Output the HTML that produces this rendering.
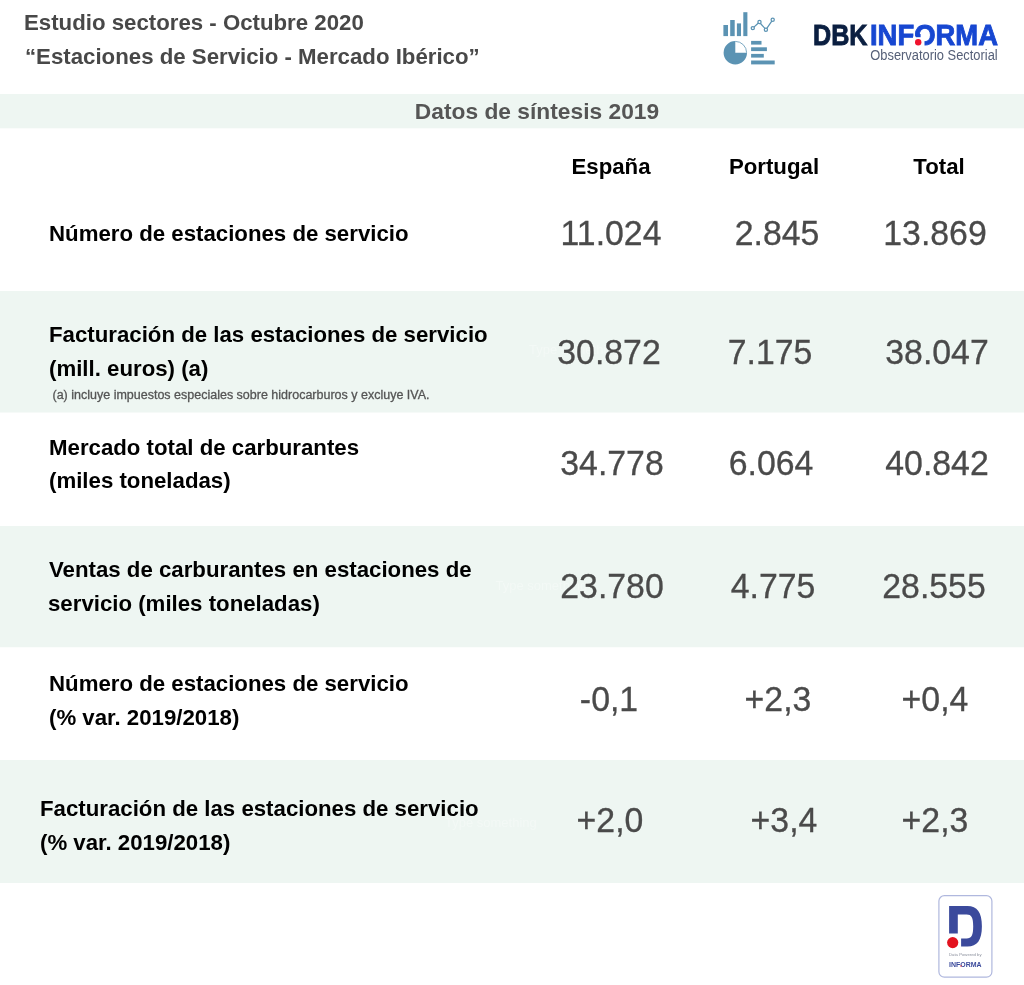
<!DOCTYPE html>
<html lang="es"><head><meta charset="utf-8"><title>Estaciones de Servicio - Mercado Ibérico</title>
<style>
html,body{margin:0;padding:0;background:#fff;overflow:hidden;}
body{width:1024px;height:985px;position:relative;overflow:hidden;font-family:"Liberation Sans",sans-serif;}
.t{position:absolute;line-height:1;white-space:nowrap;}
.band{position:absolute;left:0;width:1024px;background:#eef6f2;}
svg{position:absolute;overflow:visible}
</style></head><body>
<div class="band" style="top:94px;height:34px;box-shadow:0 1px 0 #fafcfb"></div>
<div class="band" style="top:291px;height:121px;box-shadow:0 1px 0 #f6faf8"></div>
<div class="band" style="top:526px;height:121px;box-shadow:0 1px 0 #fbfdfc"></div>
<div class="band" style="top:760px;height:123px"></div>
<div class="t " style="left:24.20px;transform-origin:0 0;top:12px;font-size:22px;font-weight:bold;color:#484848;transform:scaleX(1.0105);">Estudio sectores - Octubre 2020</div>
<div class="t " style="left:25.00px;transform-origin:0 0;top:46px;font-size:22px;font-weight:bold;color:#484848;transform:scaleX(1.0105);">“Estaciones de Servicio - Mercado Ibérico”</div>
<div class="t " style="left:236.75px;width:600px;text-align:center;transform-origin:50% 0;top:101px;font-size:22.5px;font-weight:bold;color:#555;transform:scaleX(1.012);">Datos de síntesis 2019</div>
<div class="t " style="left:311.25px;width:600px;text-align:center;transform-origin:50% 0;top:156px;font-size:22px;font-weight:bold;color:#000;transform:scaleX(1.0105);">España</div>
<div class="t " style="left:473.75px;width:600px;text-align:center;transform-origin:50% 0;top:156px;font-size:22px;font-weight:bold;color:#000;transform:scaleX(1.0105);">Portugal</div>
<div class="t " style="left:638.50px;width:600px;text-align:center;transform-origin:50% 0;top:156px;font-size:22px;font-weight:bold;color:#000;transform:scaleX(1.0105);">Total</div>
<div class="t" style="left:529px;top:343px;font-size:13px;color:rgba(255,255,255,0.32)">Type something</div>
<div class="t" style="left:495.5px;top:579px;font-size:13px;color:rgba(255,255,255,0.32)">Type something</div>
<div class="t" style="left:445px;top:816px;font-size:13px;color:rgba(255,255,255,0.32)">Type something</div>
<div class="t " style="left:310.75px;width:600px;text-align:center;transform-origin:50% 0;top:215px;font-size:35px;font-weight:normal;color:#4a4a4a;transform:scaleX(0.966);-webkit-text-stroke:0.3px #4a4a4a;">11.024</div>
<div class="t " style="left:476.75px;width:600px;text-align:center;transform-origin:50% 0;top:215px;font-size:35px;font-weight:normal;color:#4a4a4a;transform:scaleX(0.966);-webkit-text-stroke:0.3px #4a4a4a;">2.845</div>
<div class="t " style="left:634.50px;width:600px;text-align:center;transform-origin:50% 0;top:215px;font-size:35px;font-weight:normal;color:#4a4a4a;transform:scaleX(0.966);-webkit-text-stroke:0.3px #4a4a4a;">13.869</div>
<div class="t " style="left:308.75px;width:600px;text-align:center;transform-origin:50% 0;top:334px;font-size:35px;font-weight:normal;color:#4a4a4a;transform:scaleX(0.966);-webkit-text-stroke:0.3px #4a4a4a;">30.872</div>
<div class="t " style="left:470.25px;width:600px;text-align:center;transform-origin:50% 0;top:334px;font-size:35px;font-weight:normal;color:#4a4a4a;transform:scaleX(0.966);-webkit-text-stroke:0.3px #4a4a4a;">7.175</div>
<div class="t " style="left:636.50px;width:600px;text-align:center;transform-origin:50% 0;top:334px;font-size:35px;font-weight:normal;color:#4a4a4a;transform:scaleX(0.966);-webkit-text-stroke:0.3px #4a4a4a;">38.047</div>
<div class="t " style="left:312.00px;width:600px;text-align:center;transform-origin:50% 0;top:445px;font-size:35px;font-weight:normal;color:#4a4a4a;transform:scaleX(0.966);-webkit-text-stroke:0.3px #4a4a4a;">34.778</div>
<div class="t " style="left:470.75px;width:600px;text-align:center;transform-origin:50% 0;top:445px;font-size:35px;font-weight:normal;color:#4a4a4a;transform:scaleX(0.966);-webkit-text-stroke:0.3px #4a4a4a;">6.064</div>
<div class="t " style="left:637.00px;width:600px;text-align:center;transform-origin:50% 0;top:445px;font-size:35px;font-weight:normal;color:#4a4a4a;transform:scaleX(0.966);-webkit-text-stroke:0.3px #4a4a4a;">40.842</div>
<div class="t " style="left:311.50px;width:600px;text-align:center;transform-origin:50% 0;top:568px;font-size:35px;font-weight:normal;color:#4a4a4a;transform:scaleX(0.966);-webkit-text-stroke:0.3px #4a4a4a;">23.780</div>
<div class="t " style="left:472.75px;width:600px;text-align:center;transform-origin:50% 0;top:568px;font-size:35px;font-weight:normal;color:#4a4a4a;transform:scaleX(0.966);-webkit-text-stroke:0.3px #4a4a4a;">4.775</div>
<div class="t " style="left:633.75px;width:600px;text-align:center;transform-origin:50% 0;top:568px;font-size:35px;font-weight:normal;color:#4a4a4a;transform:scaleX(0.966);-webkit-text-stroke:0.3px #4a4a4a;">28.555</div>
<div class="t " style="left:308.75px;width:600px;text-align:center;transform-origin:50% 0;top:681px;font-size:35px;font-weight:normal;color:#4a4a4a;transform:scaleX(0.966);-webkit-text-stroke:0.3px #4a4a4a;">-0,1</div>
<div class="t " style="left:478.25px;width:600px;text-align:center;transform-origin:50% 0;top:681px;font-size:35px;font-weight:normal;color:#4a4a4a;transform:scaleX(0.966);-webkit-text-stroke:0.3px #4a4a4a;">+2,3</div>
<div class="t " style="left:635.00px;width:600px;text-align:center;transform-origin:50% 0;top:681px;font-size:35px;font-weight:normal;color:#4a4a4a;transform:scaleX(0.966);-webkit-text-stroke:0.3px #4a4a4a;">+0,4</div>
<div class="t " style="left:309.50px;width:600px;text-align:center;transform-origin:50% 0;top:802px;font-size:35px;font-weight:normal;color:#4a4a4a;transform:scaleX(0.966);-webkit-text-stroke:0.3px #4a4a4a;">+2,0</div>
<div class="t " style="left:484.00px;width:600px;text-align:center;transform-origin:50% 0;top:802px;font-size:35px;font-weight:normal;color:#4a4a4a;transform:scaleX(0.966);-webkit-text-stroke:0.3px #4a4a4a;">+3,4</div>
<div class="t " style="left:635.00px;width:600px;text-align:center;transform-origin:50% 0;top:802px;font-size:35px;font-weight:normal;color:#4a4a4a;transform:scaleX(0.966);-webkit-text-stroke:0.3px #4a4a4a;">+2,3</div>
<div class="t " style="left:48.50px;transform-origin:0 0;top:223px;font-size:22px;font-weight:bold;color:#000;transform:scaleX(1.0105);">Número de estaciones de servicio</div>
<div class="t " style="left:48.50px;transform-origin:0 0;top:324px;font-size:22px;font-weight:bold;color:#000;transform:scaleX(1.0105);">Facturación de las estaciones de servicio</div>
<div class="t " style="left:48.50px;transform-origin:0 0;top:358px;font-size:22px;font-weight:bold;color:#000;transform:scaleX(1.0105);">(mill. euros) (a)</div>
<div class="t " style="left:48.50px;transform-origin:0 0;top:437px;font-size:22px;font-weight:bold;color:#000;transform:scaleX(1.0105);">Mercado total de carburantes</div>
<div class="t " style="left:48.50px;transform-origin:0 0;top:470px;font-size:22px;font-weight:bold;color:#000;transform:scaleX(1.0105);">(miles toneladas)</div>
<div class="t " style="left:48.50px;transform-origin:0 0;top:559px;font-size:22px;font-weight:bold;color:#000;transform:scaleX(1.0105);">Ventas de carburantes en estaciones de</div>
<div class="t " style="left:48.00px;transform-origin:0 0;top:593px;font-size:22px;font-weight:bold;color:#000;transform:scaleX(1.0105);">servicio (miles toneladas)</div>
<div class="t " style="left:48.50px;transform-origin:0 0;top:673px;font-size:22px;font-weight:bold;color:#000;transform:scaleX(1.0105);">Número de estaciones de servicio</div>
<div class="t " style="left:48.50px;transform-origin:0 0;top:707px;font-size:22px;font-weight:bold;color:#000;transform:scaleX(1.0105);">(% var. 2019/2018)</div>
<div class="t " style="left:39.50px;transform-origin:0 0;top:798px;font-size:22px;font-weight:bold;color:#000;transform:scaleX(1.0105);">Facturación de las estaciones de servicio</div>
<div class="t " style="left:39.50px;transform-origin:0 0;top:832px;font-size:22px;font-weight:bold;color:#000;transform:scaleX(1.0105);">(% var. 2019/2018)</div>
<div class="t " style="left:52.50px;transform-origin:0 0;top:389px;font-size:12.5px;font-weight:normal;color:#555;-webkit-text-stroke:0.3px #555;">(a) incluye impuestos especiales sobre hidrocarburos y excluye IVA.</div>
<svg width="1024" height="90" style="left:0;top:0" viewBox="0 0 1024 90">
<g fill="#5b93b3">
<rect x="723.4" y="25" width="4.6" height="11.1"/>
<rect x="730.2" y="20" width="4.5" height="16.1"/>
<rect x="736.9" y="23.4" width="4.1" height="12.7"/>
<rect x="743.3" y="12.2" width="4.1" height="23.9"/>
<rect x="751.1" y="40.9" width="10.4" height="3.7"/>
<rect x="751.1" y="47.3" width="15.8" height="3.8"/>
<rect x="751.1" y="53.9" width="12.7" height="3.7"/>
<rect x="751.1" y="60.5" width="23.6" height="3.9"/>
<path d="M735.3 41 A11.7 11.7 0 1 0 747 52.7 L735.3 52.7 Z"/>
</g>
<path d="M735.3 41.4 A11.3 11.3 0 0 1 746.6 52.7" fill="none" stroke="#5b93b3" stroke-width="0.8"/>
<g fill="none" stroke="#5b93b3" stroke-width="1.25">
<path d="M753.9 27.1 L758.4 23 M760.5 23.5 L764.9 28.3 M766.8 28.3 L771.8 21.2"/>
<circle cx="752.8" cy="28.1" r="1.6"/><circle cx="759.5" cy="21.9" r="1.6"/><circle cx="765.9" cy="29.7" r="1.6"/><circle cx="772.7" cy="19.8" r="1.6"/>
</g>
</svg>
<svg width="1024" height="90" style="left:0;top:0" viewBox="0 0 1024 90" font-family="Liberation Sans, sans-serif">
<text x="813" y="45.4" font-size="30" font-weight="bold" fill="#0b1f41" stroke="#0b1f41" stroke-width="0.9" textLength="54.5" lengthAdjust="spacingAndGlyphs">DBK</text>
<text x="870" y="45.4" font-size="30" font-weight="bold" fill="#1747d1" stroke="#1747d1" stroke-width="0.9" textLength="128" lengthAdjust="spacingAndGlyphs">INFORMA</text>
<rect x="913" y="36.5" width="11.5" height="10.5" fill="#fff"/>
<rect x="915.9" y="34" width="4.7" height="3.2" fill="#1747d1"/>
<circle cx="918.2" cy="42.3" r="3.2" fill="#f0122d"/>
<text x="870.3" y="59.9" font-size="14" fill="#566078" textLength="127.4" lengthAdjust="spacingAndGlyphs">Observatorio Sectorial</text>
</svg>
<svg width="1024" height="985" style="left:0;top:0;pointer-events:none" viewBox="0 0 1024 985" font-family="Liberation Sans, sans-serif">
<rect x="938.9" y="895.6" width="53" height="81.6" rx="5.5" ry="5.5" fill="#fff" stroke="#b0b8de" stroke-width="1.2"/>
<path d="M949.1 906 H967.5 C977.2 906 981.9 912.3 981.9 926.3 C981.9 940.3 977.2 946.6 967.5 946.6 H961.1 V938.5 H966.6 C971.6 938.5 973.2 935.3 973.2 926.3 C973.2 917.5 971.6 914.4 966.6 914.4 H957.8 V933.4 H949.1 Z" fill="#3b4a9c"/>
<circle cx="952.7" cy="942.6" r="5.6" fill="#e3131f"/>
<text x="949" y="956.4" font-size="4.4" fill="#8a8f9c" textLength="32.6" lengthAdjust="spacingAndGlyphs">Data Powered by</text>
<text x="949" y="966.7" font-size="7.2" font-weight="bold" fill="#3b4a9c" textLength="32.6" lengthAdjust="spacingAndGlyphs">INFORMA</text>
<circle cx="961" cy="966" r="0.7" fill="#e3131f"/>
</svg>
</body></html>
